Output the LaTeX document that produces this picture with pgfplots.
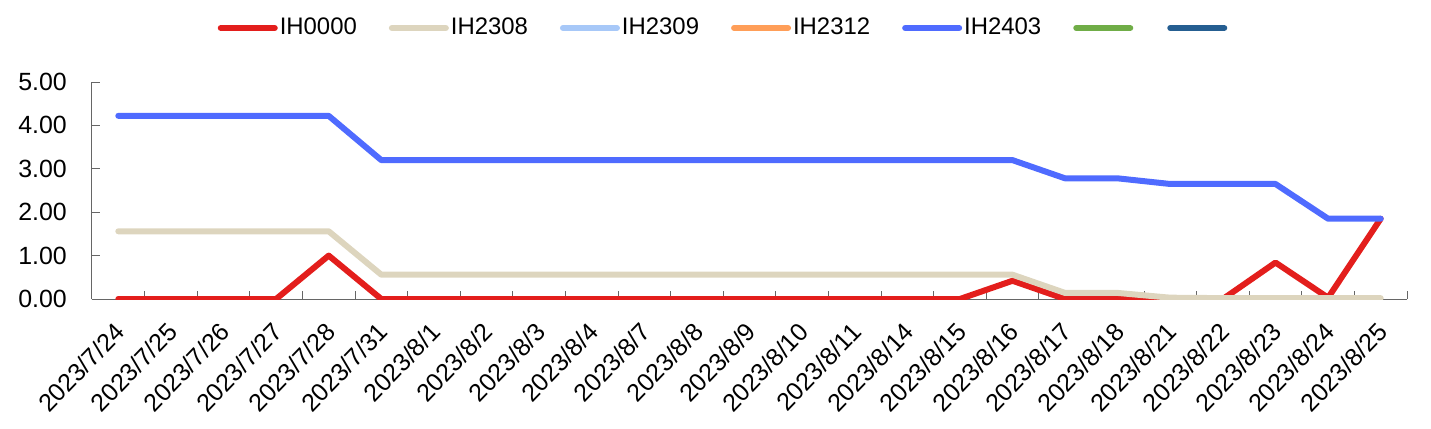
\documentclass[border=0pt]{standalone}
\usepackage{fontspec}
\setmainfont{Liberation Sans}
\usepackage{pgfplots}
\pgfplotsset{compat=1.18}
\definecolor{cRed}{RGB}{227,30,28}
\definecolor{cBeige}{RGB}{221,213,190}
\definecolor{cLBlue}{RGB}{167,200,248}
\definecolor{cOrange}{RGB}{255,158,88}
\definecolor{cBlue}{RGB}{79,107,255}
\definecolor{cGreen}{RGB}{112,173,71}
\definecolor{cDBlue}{RGB}{37,94,145}
\begin{document}
\fontsize{24}{28}\selectfont
\begin{tikzpicture}
\path[use as bounding box] (-92bp,-130bp) rectangle (1339bp,299bp);
\begin{axis}[
  at={(0,0)}, anchor=south west,
  scale only axis, width=1315bp, height=217bp,
  xmin=-0.5, xmax=24.5, ymin=0, ymax=5,
  axis x line*=bottom, axis y line*=left,
  axis line style={draw=black!60, line width=1bp, -},
  tick style={draw=black!60, line width=1bp},
  tick align=inside, major tick length=8bp,
  xtick={-0.5,0.5,...,24.5}, xticklabels={},
  extra x ticks={0,1,...,24},
  extra x tick labels={2023/7/24,2023/7/25,2023/7/26,2023/7/27,2023/7/28,2023/7/31,2023/8/1,2023/8/2,2023/8/3,2023/8/4,2023/8/7,2023/8/8,2023/8/9,2023/8/10,2023/8/11,2023/8/14,2023/8/15,2023/8/16,2023/8/17,2023/8/18,2023/8/21,2023/8/22,2023/8/23,2023/8/24,2023/8/25},
  extra x tick style={major tick length=0pt, tick label style={xshift=-5bp, yshift=-22bp, rotate=46, anchor=north east, inner sep=0pt}},
  ytick={0,1,...,5},
  /pgf/number format/fixed, /pgf/number format/fixed zerofill, /pgf/number format/precision=2, /pgf/number format/assume math mode=true,
  ticklabel style={font=\fontsize{25}{29}\selectfont},
  yticklabel style={inner sep=0pt, xshift=-25bp},
  every axis plot/.append style={line width=6bp, line join=round, line cap=round},
  legend image code/.code={\draw[#1, line width=6bp, line cap=round] (3bp,0bp) -- (57bp,0bp);},
  legend style={at={(axis description cs:0.481,1.249)}, anchor=center, draw=none, fill=none,
    font=\fontsize{24}{28}\selectfont,
    nodes={inner xsep=2bp, inner ysep=0bp},
    /tikz/every even column/.append style={column sep=30bp}},
  legend columns=7,
]
\addplot[cRed] coordinates {(0,0)(1,0)(2,0)(3,0)(4,1.0)(5,0)(6,0)(7,0)(8,0)(9,0)(10,0)(11,0)(12,0)(13,0)(14,0)(15,0)(16,0)(17,0.42)(18,0)(19,0.05)(20,0)(21,0)(22,0.84)(23,0.03)(24,1.85)};
\addlegendentry{IH0000}
\addplot[cBeige] coordinates {(0,1.56)(1,1.56)(2,1.56)(3,1.56)(4,1.56)(5,0.56)(6,0.56)(7,0.56)(8,0.56)(9,0.56)(10,0.56)(11,0.56)(12,0.56)(13,0.56)(14,0.56)(15,0.56)(16,0.56)(17,0.56)(18,0.14)(19,0.14)(20,0.03)(21,0.02)(22,0.02)(23,0.02)(24,0.02)};
\addlegendentry{IH2308}
\addlegendimage{cLBlue}
\addlegendentry{IH2309}
\addlegendimage{cOrange}
\addlegendentry{IH2312}
\addplot[cBlue] coordinates {(0,4.22)(1,4.22)(2,4.22)(3,4.22)(4,4.22)(5,3.2)(6,3.2)(7,3.2)(8,3.2)(9,3.2)(10,3.2)(11,3.2)(12,3.2)(13,3.2)(14,3.2)(15,3.2)(16,3.2)(17,3.2)(18,2.78)(19,2.78)(20,2.65)(21,2.65)(22,2.65)(23,1.85)(24,1.85)};
\addlegendentry{IH2403}
\addlegendimage{cGreen}
\addlegendentry{}
\addlegendimage{cDBlue}
\addlegendentry{}
\end{axis}
\end{tikzpicture}
\end{document}
